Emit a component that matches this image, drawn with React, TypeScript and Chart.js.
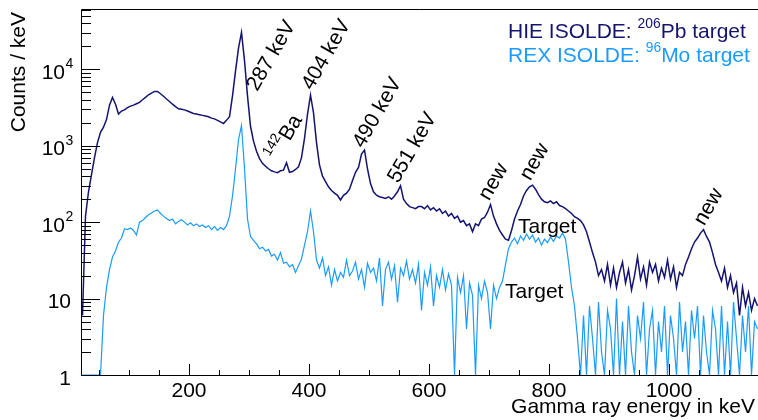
import React, { useEffect, useRef } from 'react';
import { Chart, registerables } from 'chart.js';

Chart.register(...registerables);

// ---- data -------------------------------------------------------------
const BIN_START = 20; // keV, lower edge of first bin
const BIN_WIDTH = 5; // keV
const X_MIN = 20;
const X_MAX = 1148.3;
const Y_MIN = 1;
const Y_MAX = 61660;

// HIE ISOLDE, 206Pb target (counts / keV per 5 keV bin)
const hieCounts = [
  6, 120, 250, 420, 700, 1100, 1500, 1750, 2200, 3400,
  4300, 3500, 2600, 2850, 2950, 3150, 3300, 3400, 3550, 3700,
  4000, 4300, 4650, 4900, 5150, 5150, 4800, 4450, 4100, 3800,
  3500, 3250, 3050, 3000, 2950, 2850, 2750, 2650, 2600, 2550,
  2500, 2450, 2400, 2300, 2250, 2150, 2050, 1950, 2150, 2400,
  4500, 9500, 19000, 30500, 13000, 4500, 1800, 1150, 850, 680,
  590, 540, 500, 470, 455, 445, 470, 480, 600, 450,
  460, 490, 530, 700, 1250, 2600, 4600, 2700, 1100, 560,
  400, 340, 290, 260, 240, 225, 195, 225, 240, 270,
  350, 450, 520, 780, 880, 500, 320, 250, 225, 215,
  210, 205, 215, 200, 220, 250, 300, 200, 175, 160,
  155, 150, 160, 160, 150, 165, 145, 155, 140, 150,
  130, 140, 120, 130, 112, 120, 100, 105, 90, 95,
  75, 95, 90, 110, 115, 135, 170, 120, 95, 78,
  68, 60, 58, 78, 110, 140, 170, 220, 260, 290,
  305, 270, 230, 200, 185, 180, 190, 175, 185, 165,
  160, 150, 140, 130, 118, 112, 105, 92, 75, 55,
  40, 30, 20, 24, 17, 28, 15, 25, 14, 22,
  30, 16, 24, 13, 20, 35, 18, 26, 15, 30,
  22, 28, 17, 25, 19, 32, 18, 26, 14, 22,
  20, 28, 35, 45, 55, 62, 72, 80, 65, 55,
  40, 28, 22, 17, 25, 14, 20, 12, 16, 6,
  14, 8, 12, 7, 10, 8,
];

// REX ISOLDE, 96Mo target (counts / keV per 5 keV bin)
const rexCounts = [
  0, 0, 0, 0, 0, 0, 0, 6, 14, 24,
  35, 42, 55, 62, 82, 80, 84, 78, 68, 100,
  105, 115, 125, 132, 140, 145, 130, 120, 112, 105,
  110, 95, 102, 108, 100, 92, 98, 90, 95, 88,
  92, 85, 90, 80, 88, 78, 85, 80, 90, 120,
  220, 500, 1200, 1850, 500, 110, 65, 58, 52, 45,
  47, 42, 44, 36, 38, 32, 40, 29, 30, 26,
  28, 22, 27, 33, 50, 75, 140, 75, 32, 25,
  34, 20, 26, 15, 24, 17, 22, 19, 32, 20,
  23, 30, 18, 24, 14, 29, 22, 25, 17, 34,
  8, 24, 30, 18, 27, 9, 25, 20, 31, 18,
  24, 16, 28, 7, 22, 15, 26, 8, 20, 14,
  24, 13, 21, 15, 1, 19, 12, 20, 4, 16,
  11, 0, 15, 10, 17, 12, 4, 15, 10, 14,
  17, 28, 45, 55, 62, 52, 66, 58, 70, 60,
  68, 55, 62, 50, 60, 54, 64, 56, 66, 62,
  72, 60, 30, 14, 8, 3, 0, 6, 0, 8,
  3, 0, 9, 2, 0, 7, 4, 0, 10, 1,
  5, 0, 8, 2, 0, 6, 3, 9, 0, 4,
  7, 0, 5, 2, 8, 0, 6, 3, 0, 9,
  2, 5, 0, 7, 3, 8, 0, 6, 2, 0,
  7, 4, 0, 8, 1, 5, 0, 9, 3, 0,
  6, 2, 8, 0, 5, 4,
];

// axis ticks
const xMajorTicks = [200, 400, 600, 800, 1000];
const xMinorStep = 50;
const yDecades = [1, 10, 100, 1000, 10000];
const yTickBase = ['1', '10', '10', '10', '10'];
const yTickSup = ['', '', '2', '3', '4'];

// text
const DARK = '#141470';
const LIGHT = '#1a9bff';
const FONT = '"Liberation Sans", Arial, Helvetica, sans-serif';

const peakLabels = ['287 keV', '404 keV', '490 keV', '551 keV', 'new', 'new', 'new'];
const peakLabelE = [335, 426.7, 511.7, 570, 708.3, 776.7, 1066.7];
const peakLabelV = [15420, 15900, 2770, 964, 336, 614, 158];

type Seg = { t: string; sup?: boolean };

const fontPx = (px: number) => `${px}px ${FONT}`;

function measureRich(ctx: CanvasRenderingContext2D, segs: Seg[], size: number) {
  let w = 0;
  for (const s of segs) {
    ctx.font = fontPx(s.sup ? size * 0.66 : size);
    w += ctx.measureText(s.t).width;
  }
  return w;
}

function drawRich(ctx: CanvasRenderingContext2D, segs: Seg[], x: number, y: number, size: number) {
  let cx = x;
  ctx.textAlign = 'left';
  ctx.textBaseline = 'alphabetic';
  for (const s of segs) {
    const sz = s.sup ? size * 0.66 : size;
    ctx.font = fontPx(sz);
    ctx.fillText(s.t, cx, s.sup ? y - size * 0.48 : y);
    cx += ctx.measureText(s.t).width;
  }
}

function drawRotated(ctx: CanvasRenderingContext2D, segs: Seg[], cx: number, cy: number, size: number, midOffset: number) {
  ctx.save();
  ctx.translate(cx, cy);
  ctx.rotate((-60 * Math.PI) / 180);
  const w = measureRich(ctx, segs, size);
  drawRich(ctx, segs, -w / 2, midOffset, size);
  ctx.restore();
}

const rootStylePlugin = {
  id: 'rootStyle',
  afterDraw(chart: any) {
    const { ctx, chartArea: a, scales } = chart;
    const xs = scales.x;
    const ys = scales.y;
    ctx.save();

    // frame
    ctx.strokeStyle = '#000';
    ctx.lineWidth = 1;
    ctx.beginPath();
    ctx.moveTo(a.left + 0.5, a.bottom + 0.5);
    ctx.lineTo(a.left + 0.5, a.top + 0.5);
    ctx.lineTo(a.right, a.top + 0.5);
    ctx.moveTo(a.left, a.bottom + 0.5);
    ctx.lineTo(a.right, a.bottom + 0.5);
    ctx.stroke();

    // x ticks (inward)
    ctx.beginPath();
    for (let e = xMinorStep; e <= X_MAX; e += xMinorStep) {
      if (e < X_MIN) continue;
      const px = Math.round(xs.getPixelForValue(e)) + 0.5;
      const major = xMajorTicks.includes(e);
      ctx.moveTo(px, a.bottom);
      ctx.lineTo(px, a.bottom - (major ? 11 : 5));
    }
    // y ticks (inward)
    for (const d of yDecades) {
      for (let m = 1; m <= 9; m++) {
        const v = d * m;
        if (v < Y_MIN || v > Y_MAX) continue;
        const py = Math.round(ys.getPixelForValue(v)) + 0.5;
        ctx.moveTo(a.left, py);
        ctx.lineTo(a.left + (m === 1 ? 19 : 10), py);
      }
    }
    ctx.stroke();

    // x tick labels
    ctx.fillStyle = '#000';
    ctx.font = fontPx(21);
    ctx.textAlign = 'center';
    ctx.textBaseline = 'alphabetic';
    for (const e of xMajorTicks) {
      ctx.fillText(String(e), xs.getPixelForValue(e), a.bottom + 22);
    }

    // y tick labels
    yDecades.forEach((d, i) => {
      const py = ys.getPixelForValue(d);
      ctx.font = fontPx(21);
      if (!yTickSup[i]) {
        ctx.textAlign = 'right';
        ctx.fillText(yTickBase[i], a.left - 10, py + 9.5);
      } else {
        ctx.textAlign = 'right';
        ctx.fillText(yTickBase[i], a.left - 16, py + 9.5);
        ctx.textAlign = 'left';
        ctx.font = fontPx(14);
        ctx.fillText(yTickSup[i], a.left - 15.5, py - 1);
      }
    });

    // axis titles
    ctx.font = fontPx(21);
    ctx.textAlign = 'right';
    ctx.fillText('Gamma ray energy in keV', 755, 413);
    ctx.save();
    ctx.translate(25, 12);
    ctx.rotate(-Math.PI / 2);
    ctx.textAlign = 'right';
    ctx.fillText('Counts / keV', 0, 0);
    ctx.restore();

    // peak annotations
    ctx.fillStyle = '#000';
    peakLabels.forEach((t, i) => {
      const cx = xs.getPixelForValue(peakLabelE[i]);
      const cy = ys.getPixelForValue(peakLabelV[i]);
      drawRotated(ctx, [{ t }], cx, cy, 21, t === 'new' ? 5.5 : 7.5);
    });
    drawRotated(
      ctx,
      [{ t: '142', sup: true }, { t: 'Ba' }],
      xs.getPixelForValue(358.3),
      ys.getPixelForValue(1304),
      21,
      7.5
    );

    // "Target" labels
    ctx.font = fontPx(21);
    ctx.textAlign = 'left';
    ctx.textBaseline = 'alphabetic';
    ctx.fillText('Target', xs.getPixelForValue(748.3), ys.getPixelForValue(72.2));
    ctx.fillText('Target', xs.getPixelForValue(726.7), ys.getPixelForValue(10.2));

    // legend
    ctx.fillStyle = DARK;
    drawRich(ctx, [{ t: 'HIE ISOLDE: ' }, { t: '206', sup: true }, { t: 'Pb target' }], 508, 38, 21);
    ctx.fillStyle = LIGHT;
    drawRich(ctx, [{ t: 'REX ISOLDE: ' }, { t: '96', sup: true }, { t: 'Mo target' }], 508, 62, 21);

    ctx.restore();
  },
};

function toPoints(counts: number[]) {
  return counts.map((c, i) => ({
    x: BIN_START + BIN_WIDTH * (i + 0.5),
    y: c > 0 ? c : Y_MIN,
  }));
}

export default function App() {
  const canvasRef = useRef<HTMLCanvasElement | null>(null);

  useEffect(() => {
    if (!canvasRef.current) return;
    const chart = new Chart(canvasRef.current, {
      type: 'line',
      data: {
        datasets: [
          {
            label: 'REX ISOLDE: 96Mo target',
            data: toPoints(rexCounts),
            borderColor: LIGHT,
            borderWidth: 1.2,
            tension: 0,
            pointRadius: 0,
            fill: false,
          },
          {
            label: 'HIE ISOLDE: 206Pb target',
            data: toPoints(hieCounts),
            borderColor: DARK,
            borderWidth: 1.5,
            tension: 0,
            pointRadius: 0,
            fill: false,
          },
        ],
      },
      options: {
        animation: false,
        responsive: true,
        maintainAspectRatio: false,
        layout: { padding: { left: 81, right: 0, top: 9, bottom: 45 } },
        plugins: { legend: { display: false }, tooltip: { enabled: false } },
        events: [],
        scales: {
          x: { type: 'linear', min: X_MIN, max: X_MAX, display: false },
          y: { type: 'logarithmic', min: Y_MIN, max: Y_MAX, display: false },
        },
      },
      plugins: [rootStylePlugin],
    });
    return () => chart.destroy();
  }, []);

  return (
    <div style={{ position: 'fixed', left: 0, top: 0, width: 758, height: 420, background: '#fff' }}>
      <canvas ref={canvasRef} />
    </div>
  );
}
